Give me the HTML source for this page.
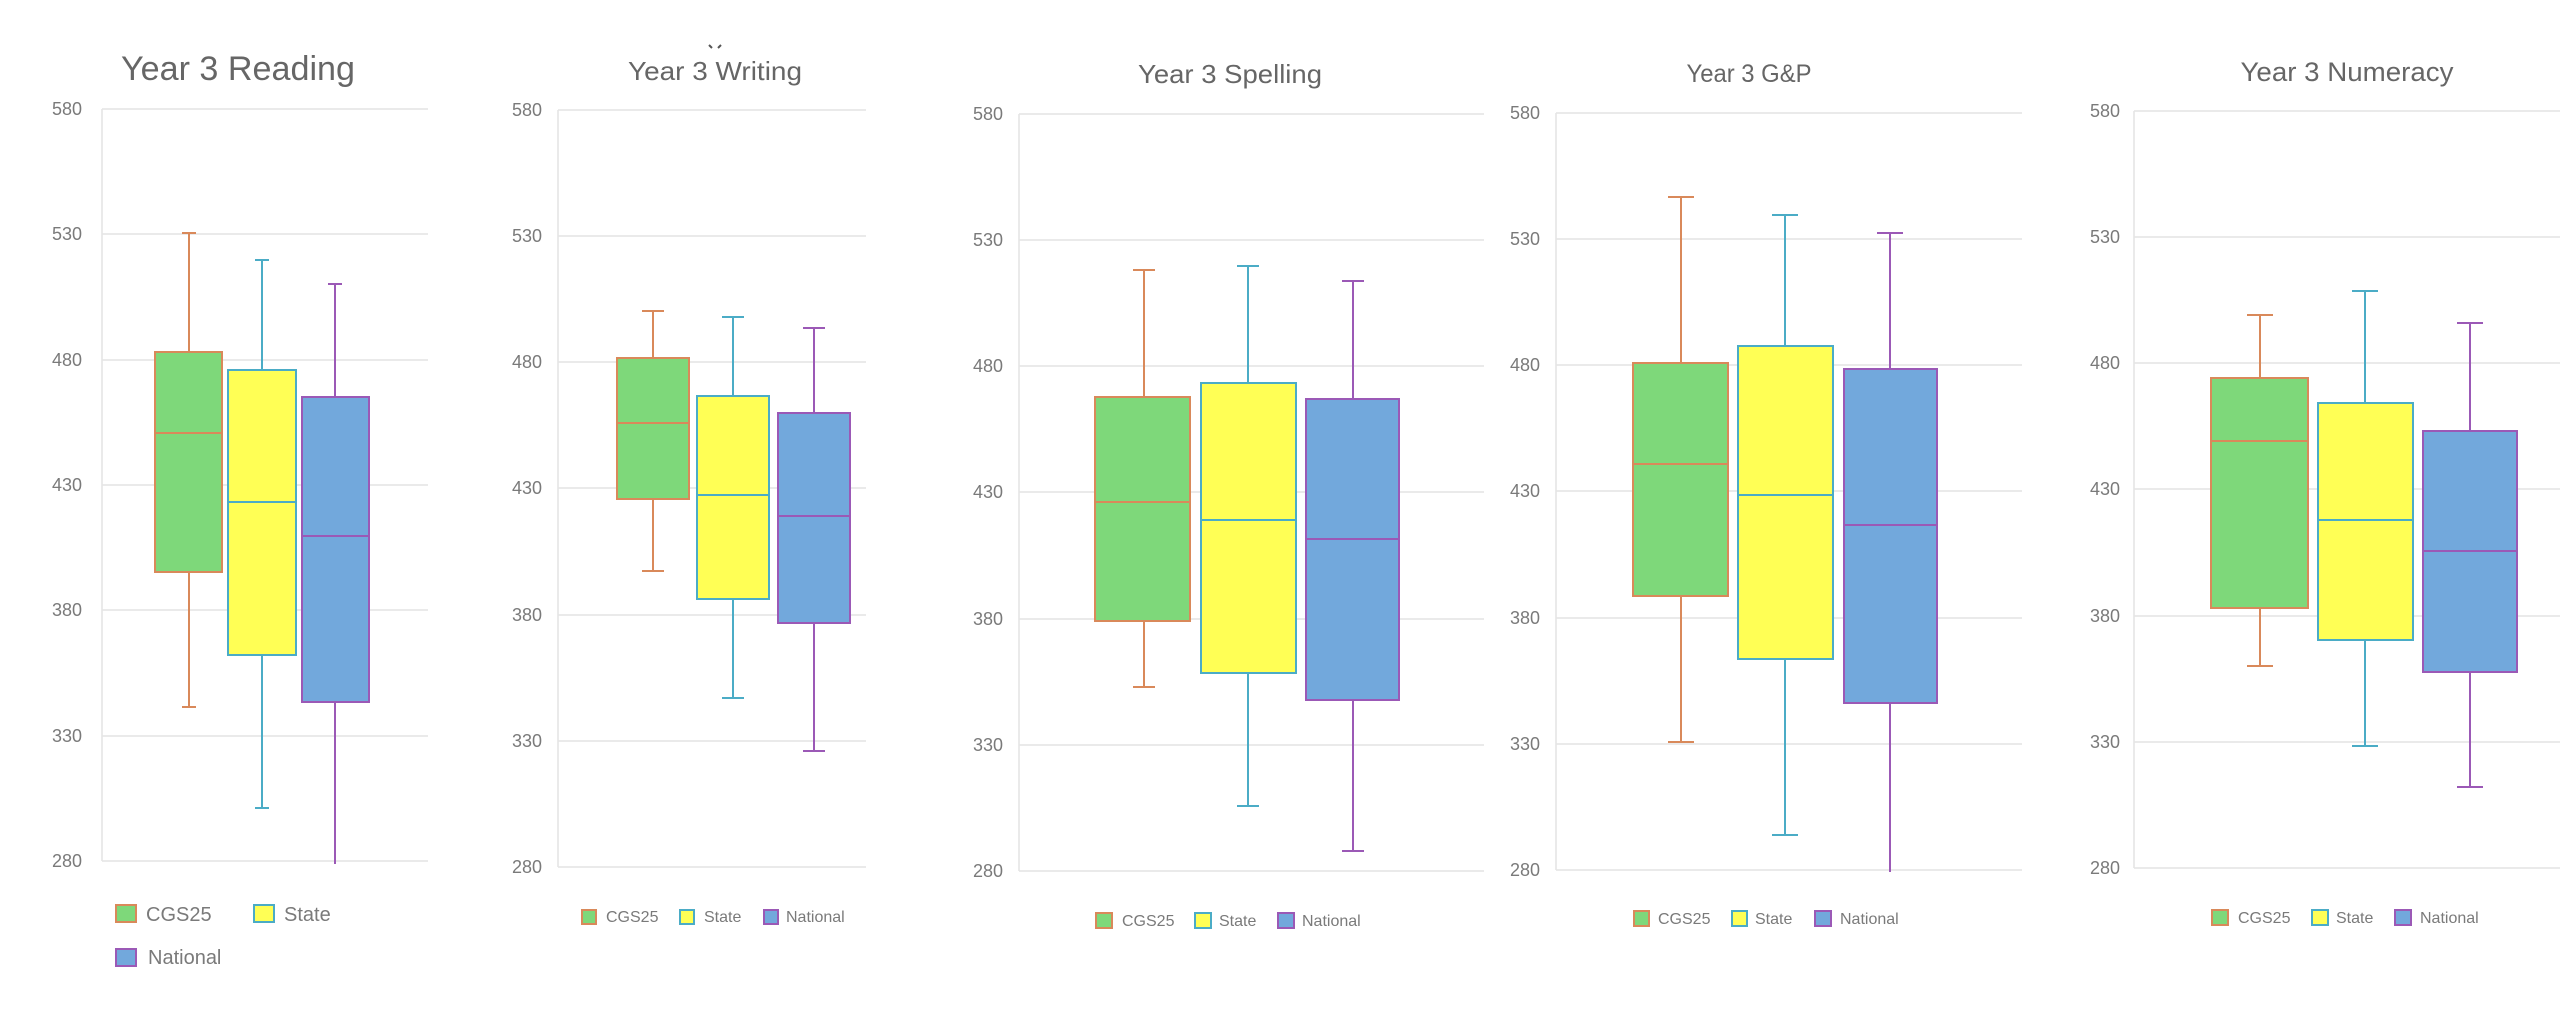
<!DOCTYPE html>
<html><head><meta charset="utf-8"><style>
html,body{margin:0;padding:0;background:#fff;}
svg{display:block;font-family:"Liberation Sans",sans-serif;}
.g{stroke:#e4e4e4;stroke-width:1.5}
.t{fill:#7a7a7a;font-size:18px;text-anchor:end}
.ti{fill:#666;text-anchor:middle}
.l{fill:#7a7a7a}
.c{fill:#7ED87A;stroke:#D9895A;stroke-width:2}
.s{fill:#FFFF55;stroke:#4BACC6;stroke-width:2}
.n{fill:#72A8DC;stroke:#9B59B6;stroke-width:2}
.cl{stroke:#D9895A;stroke-width:2;fill:none}
.sl{stroke:#4BACC6;stroke-width:2;fill:none}
.nl{stroke:#9B59B6;stroke-width:2;fill:none}
</style></head><body>
<svg width="2560" height="1036" viewBox="0 0 2560 1036">
<rect width="2560" height="1036" fill="#fff"/>

<!-- Reading -->
<g>
<line class="g" x1="102" x2="428" y1="109" y2="109"/><line class="g" x1="102" x2="428" y1="234" y2="234"/><line class="g" x1="102" x2="428" y1="360" y2="360"/><line class="g" x1="102" x2="428" y1="485" y2="485"/><line class="g" x1="102" x2="428" y1="610" y2="610"/><line class="g" x1="102" x2="428" y1="736" y2="736"/><line class="g" x1="102" x2="428" y1="861" y2="861"/>
<line class="g" x1="102" x2="102" y1="109" y2="861"/>
<text class="t" x="82" y="115">580</text><text class="t" x="82" y="240">530</text><text class="t" x="82" y="366">480</text><text class="t" x="82" y="491">430</text><text class="t" x="82" y="616">380</text><text class="t" x="82" y="742">330</text><text class="t" x="82" y="867">280</text>
<text class="ti" x="238" y="80" font-size="34" textLength="234" lengthAdjust="spacingAndGlyphs">Year 3 Reading</text>
<path class="cl" d="M189 233V352M189 572V707M182 233H196M182 707H196"/>
<rect class="c" x="155" y="352" width="67" height="220"/><line class="cl" x1="155" x2="222" y1="433" y2="433"/>
<path class="sl" d="M262 260V370M262 655V808M255 260H269M255 808H269"/>
<rect class="s" x="228" y="370" width="68" height="285"/><line class="sl" x1="228" x2="296" y1="502" y2="502"/>
<path class="nl" d="M335 284V397M335 702V864M328 284H342"/>
<rect class="n" x="302" y="397" width="67" height="305"/><line class="nl" x1="302" x2="369" y1="536" y2="536"/>
<rect class="c" x="116" y="905" width="20" height="17"/><text class="l" x="146" y="921" font-size="20">CGS25</text>
<rect class="s" x="254" y="905" width="20" height="17"/><text class="l" x="284" y="921" font-size="20">State</text>
<rect class="n" x="116" y="949" width="20" height="17"/><text class="l" x="148" y="964" font-size="20">National</text>
</g>

<!-- Writing -->
<g>
<line class="g" x1="558" x2="866" y1="110" y2="110"/><line class="g" x1="558" x2="866" y1="236" y2="236"/><line class="g" x1="558" x2="866" y1="362" y2="362"/><line class="g" x1="558" x2="866" y1="488" y2="488"/><line class="g" x1="558" x2="866" y1="615" y2="615"/><line class="g" x1="558" x2="866" y1="741" y2="741"/><line class="g" x1="558" x2="866" y1="867" y2="867"/>
<line class="g" x1="558" x2="558" y1="110" y2="867"/>
<text class="t" x="542" y="116">580</text><text class="t" x="542" y="242">530</text><text class="t" x="542" y="368">480</text><text class="t" x="542" y="494">430</text><text class="t" x="542" y="621">380</text><text class="t" x="542" y="747">330</text><text class="t" x="542" y="873">280</text>
<text class="ti" x="715" y="80" font-size="26" textLength="174" lengthAdjust="spacingAndGlyphs">Year 3 Writing</text>
<path d="M709 45l3 3M721 45l-3 3" stroke="#555" stroke-width="2"/>
<path class="cl" d="M653 311V358M653 499V571M642 311H664M642 571H664"/>
<rect class="c" x="617" y="358" width="72" height="141"/><line class="cl" x1="617" x2="689" y1="423" y2="423"/>
<path class="sl" d="M733 317V396M733 599V698M722 317H744M722 698H744"/>
<rect class="s" x="697" y="396" width="72" height="203"/><line class="sl" x1="697" x2="769" y1="495" y2="495"/>
<path class="nl" d="M814 328V413M814 623V751M803 328H825M803 751H825"/>
<rect class="n" x="778" y="413" width="72" height="210"/><line class="nl" x1="778" x2="850" y1="516" y2="516"/>
<rect class="c" x="582" y="910" width="14" height="14"/><text class="l" x="606" y="922" font-size="16">CGS25</text>
<rect class="s" x="680" y="910" width="14" height="14"/><text class="l" x="704" y="922" font-size="16">State</text>
<rect class="n" x="764" y="910" width="14" height="14"/><text class="l" x="786" y="922" font-size="16">National</text>
</g>

<!-- Spelling -->
<g>
<line class="g" x1="1019" x2="1484" y1="114" y2="114"/><line class="g" x1="1019" x2="1484" y1="240" y2="240"/><line class="g" x1="1019" x2="1484" y1="366" y2="366"/><line class="g" x1="1019" x2="1484" y1="492" y2="492"/><line class="g" x1="1019" x2="1484" y1="619" y2="619"/><line class="g" x1="1019" x2="1484" y1="745" y2="745"/><line class="g" x1="1019" x2="1484" y1="871" y2="871"/>
<line class="g" x1="1019" x2="1019" y1="114" y2="871"/>
<text class="t" x="1003" y="120">580</text><text class="t" x="1003" y="246">530</text><text class="t" x="1003" y="372">480</text><text class="t" x="1003" y="498">430</text><text class="t" x="1003" y="625">380</text><text class="t" x="1003" y="751">330</text><text class="t" x="1003" y="877">280</text>
<text class="ti" x="1230" y="83" font-size="26" textLength="184" lengthAdjust="spacingAndGlyphs">Year 3 Spelling</text>
<path class="cl" d="M1144 270V397M1144 621V687M1133 270H1155M1133 687H1155"/>
<rect class="c" x="1095" y="397" width="95" height="224"/><line class="cl" x1="1095" x2="1190" y1="502" y2="502"/>
<path class="sl" d="M1248 266V383M1248 673V806M1237 266H1259M1237 806H1259"/>
<rect class="s" x="1201" y="383" width="95" height="290"/><line class="sl" x1="1201" x2="1296" y1="520" y2="520"/>
<path class="nl" d="M1353 281V399M1353 700V851M1342 281H1364M1342 851H1364"/>
<rect class="n" x="1306" y="399" width="93" height="301"/><line class="nl" x1="1306" x2="1399" y1="539" y2="539"/>
<rect class="c" x="1096" y="913" width="16" height="15"/><text class="l" x="1122" y="926" font-size="16">CGS25</text>
<rect class="s" x="1195" y="913" width="16" height="15"/><text class="l" x="1219" y="926" font-size="16">State</text>
<rect class="n" x="1278" y="913" width="16" height="15"/><text class="l" x="1302" y="926" font-size="16">National</text>
</g>

<!-- G&P -->
<g>
<line class="g" x1="1556" x2="2022" y1="113" y2="113"/><line class="g" x1="1556" x2="2022" y1="239" y2="239"/><line class="g" x1="1556" x2="2022" y1="365" y2="365"/><line class="g" x1="1556" x2="2022" y1="491" y2="491"/><line class="g" x1="1556" x2="2022" y1="618" y2="618"/><line class="g" x1="1556" x2="2022" y1="744" y2="744"/><line class="g" x1="1556" x2="2022" y1="870" y2="870"/>
<line class="g" x1="1556" x2="1556" y1="113" y2="870"/>
<text class="t" x="1540" y="119">580</text><text class="t" x="1540" y="245">530</text><text class="t" x="1540" y="371">480</text><text class="t" x="1540" y="497">430</text><text class="t" x="1540" y="624">380</text><text class="t" x="1540" y="750">330</text><text class="t" x="1540" y="876">280</text>
<text class="ti" x="1749" y="82" font-size="25" textLength="125" lengthAdjust="spacingAndGlyphs">Year 3 G&amp;P</text>
<path class="cl" d="M1681 197V363M1681 596V742M1668 197H1694M1668 742H1694"/>
<rect class="c" x="1633" y="363" width="95" height="233"/><line class="cl" x1="1633" x2="1728" y1="464" y2="464"/>
<path class="sl" d="M1785 215V346M1785 659V835M1772 215H1798M1772 835H1798"/>
<rect class="s" x="1738" y="346" width="95" height="313"/><line class="sl" x1="1738" x2="1833" y1="495" y2="495"/>
<path class="nl" d="M1890 233V369M1890 703V872M1877 233H1903"/>
<rect class="n" x="1844" y="369" width="93" height="334"/><line class="nl" x1="1844" x2="1937" y1="525" y2="525"/>
<rect class="c" x="1634" y="911" width="15" height="15"/><text class="l" x="1658" y="924" font-size="16">CGS25</text>
<rect class="s" x="1732" y="911" width="15" height="15"/><text class="l" x="1755" y="924" font-size="16">State</text>
<rect class="n" x="1815" y="911" width="16" height="15"/><text class="l" x="1840" y="924" font-size="16">National</text>
</g>

<!-- Numeracy -->
<g>
<line class="g" x1="2134" x2="2560" y1="111" y2="111"/><line class="g" x1="2134" x2="2560" y1="237" y2="237"/><line class="g" x1="2134" x2="2560" y1="363" y2="363"/><line class="g" x1="2134" x2="2560" y1="489" y2="489"/><line class="g" x1="2134" x2="2560" y1="616" y2="616"/><line class="g" x1="2134" x2="2560" y1="742" y2="742"/><line class="g" x1="2134" x2="2560" y1="868" y2="868"/>
<line class="g" x1="2134" x2="2134" y1="111" y2="868"/>
<text class="t" x="2120" y="117">580</text><text class="t" x="2120" y="243">530</text><text class="t" x="2120" y="369">480</text><text class="t" x="2120" y="495">430</text><text class="t" x="2120" y="622">380</text><text class="t" x="2120" y="748">330</text><text class="t" x="2120" y="874">280</text>
<text class="ti" x="2347" y="81" font-size="27" textLength="213" lengthAdjust="spacingAndGlyphs">Year 3 Numeracy</text>
<path class="cl" d="M2260 315V378M2260 608V666M2247 315H2273M2247 666H2273"/>
<rect class="c" x="2211" y="378" width="97" height="230"/><line class="cl" x1="2211" x2="2308" y1="441" y2="441"/>
<path class="sl" d="M2365 291V403M2365 640V746M2352 291H2378M2352 746H2378"/>
<rect class="s" x="2318" y="403" width="95" height="237"/><line class="sl" x1="2318" x2="2413" y1="520" y2="520"/>
<path class="nl" d="M2470 323V431M2470 672V787M2457 323H2483M2457 787H2483"/>
<rect class="n" x="2423" y="431" width="94" height="241"/><line class="nl" x1="2423" x2="2517" y1="551" y2="551"/>
<rect class="c" x="2212" y="910" width="16" height="15"/><text class="l" x="2238" y="923" font-size="16">CGS25</text>
<rect class="s" x="2312" y="910" width="16" height="15"/><text class="l" x="2336" y="923" font-size="16">State</text>
<rect class="n" x="2395" y="910" width="16" height="15"/><text class="l" x="2420" y="923" font-size="16">National</text>
</g>
</svg>
</body></html>
